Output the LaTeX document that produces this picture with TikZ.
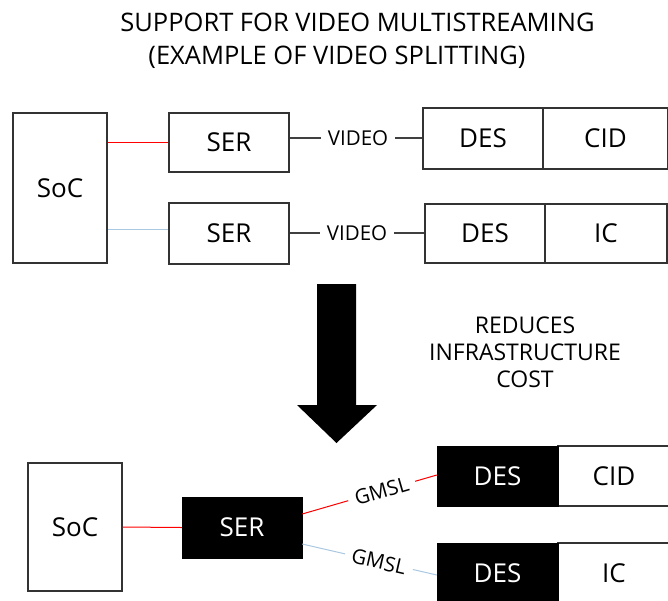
\documentclass[tikz,border=0pt]{standalone}
\usepackage{fontspec}
\setmainfont{Open Sans}
\begin{document}
\begin{tikzpicture}[x=1pt,y=-1pt,
  box/.style={draw=black!80,line width=1.1pt,fill=white,inner sep=0pt,font=\fontsize{26}{30}\selectfont},
  blackbox/.style={draw=black,fill=black,text=white,inner sep=0pt,font=\fontsize{26}{30}\selectfont},
  lbl/.style={font=\fontsize{20.5}{24}\selectfont,inner sep=7pt},
  conn/.style={draw=black!75,line width=1.1pt},
  redline/.style={draw=red,line width=1pt},
  blueline/.style={draw={rgb,255:red,170;green,200;blue,225},line width=1pt}]
\clip (0,0) rectangle (668,600);
\fill[white] (0,0) rectangle (668,600);
% titles
\node[font=\fontsize{25.5}{30}\selectfont] (t1) at (357.5,22) {SUPPORT FOR VIDEO MULTISTREAMING};
\node[font=\fontsize{25.5}{30}\selectfont] (t2) at (337,57) {(EXAMPLE OF VIDEO SPLITTING)};
% top
\node[box,minimum width=94pt,minimum height=150pt] (soc1) at (60,188) {SoC};
\node[box,minimum width=120pt,minimum height=59pt] (ser1) at (229,142.5) {SER};
\node[box,minimum width=120pt,minimum height=61pt] (ser2) at (229,233.5) {SER};
\node[box,minimum width=120pt,minimum height=61pt] (des1) at (483,138.5) {DES};
\node[box,minimum width=125pt,minimum height=61pt] (cid1) at (605.5,138.5) {CID};
\node[box,minimum width=120pt,minimum height=59pt] (des2) at (485,233.5) {DES};
\node[box,minimum width=122pt,minimum height=59pt] (ic1) at (606,233.5) {IC};
\draw[redline] (ser1.west) -- (ser1.west -| soc1.east);
\draw[blueline] ([yshift=4.5pt]ser2.west) -- ([yshift=4.5pt]ser2.west -| soc1.east);
\node[lbl] (v1) at (358,138) {VIDEO};
\node[lbl] (v2) at (357,233) {VIDEO};
\draw[conn] (v1.west -| ser1.east) -- (v1.west);
\draw[conn] (v1.east) -- (v1.east -| des1.west);
\draw[conn] (v2.west -| ser2.east) -- (v2.west);
\draw[conn] (v2.east) -- (v2.east -| des2.west);
% arrow
\fill[black] (317,284) -- (356,284) -- (356,405) -- (377,405) -- (336.5,443) -- (297,405) -- (317,405) -- cycle;
\node[align=center,font=\fontsize{23}{27}\selectfont] (red) at (525,352) {REDUCES\\INFRASTRUCTURE\\COST};
% bottom
\node[box,minimum width=94pt,minimum height=128pt] (soc2) at (75,527) {SoC};
\node[blackbox,minimum width=120pt,minimum height=61pt] (ser3) at (242,527.5) {SER};
\node[box,minimum width=112pt,minimum height=60pt] (cid2) at (614,476) {CID};
\node[blackbox,minimum width=121pt,minimum height=60pt] (des3) at (497.5,476) {DES};
\node[box,minimum width=112pt,minimum height=60pt] (ic2) at (614,573) {IC};
\node[blackbox,minimum width=121pt,minimum height=60pt] (des4) at (497.5,573) {DES};
\draw[redline] (soc2.east) -- (ser3.west);
\draw[redline] ([yshift=13.5pt]ser3.east) -- node[pos=0.59,sloped,fill=white,lbl] (g1) {GMSL} ([yshift=1pt]des3.west);
\draw[blueline] ([yshift=-16.5pt]ser3.east) -- node[pos=0.57,sloped,fill=white,lbl] (g2) {GMSL} ([yshift=-2pt]des4.west);
\end{tikzpicture}
\end{document}
